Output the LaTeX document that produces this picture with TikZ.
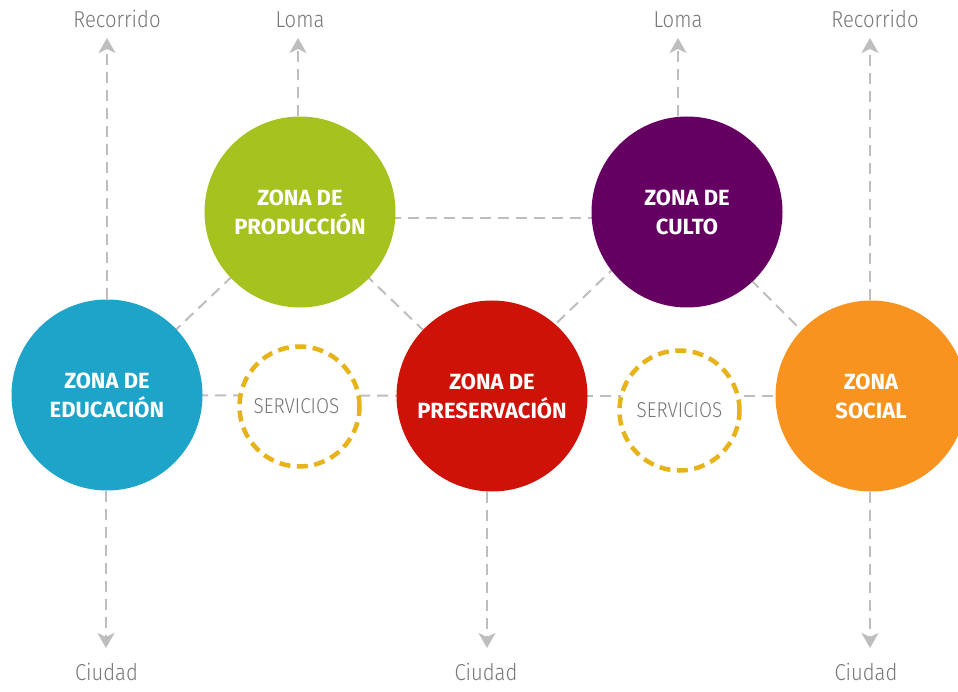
\documentclass[tikz,border=0pt]{standalone}
\usepackage{fontspec}
\setmainfont{Fira Sans}
\newfontfamily\zonefont{Fira Sans}
\newfontfamily\lightfont{Fira Sans Light}[FakeStretch=0.88]
\usetikzlibrary{arrows.meta}
\pgfdeclarelayer{bg}
\pgfsetlayers{bg,main}
\definecolor{educc}{HTML}{1EA3C9}
\definecolor{prodc}{HTML}{A5C21E}
\definecolor{presc}{HTML}{CE1207}
\definecolor{cultoc}{HTML}{650062}
\definecolor{socialc}{HTML}{F7931E}
\definecolor{servc}{HTML}{E6B41A}
\definecolor{linegray}{HTML}{BEBEBE}
\definecolor{txtgray}{HTML}{777777}
\begin{document}
\begin{tikzpicture}[x=1pt,y=-1pt,
  zone/.style={circle, minimum size=191pt, inner sep=0pt, text=white, align=center,
    font=\zonefont\bfseries\fontsize{22}{29}\selectfont},
  serv/.style={circle, minimum size=120pt, inner sep=0pt, fill=white, draw=servc,
    line width=4.5pt, dash pattern=on 11pt off 6.5pt, text=txtgray,
    font=\lightfont\fontsize{21.5}{25}\selectfont},
  link/.style={draw=linegray, line width=2pt, dash pattern=on 11pt off 7pt},
  arr/.style={link, -{Stealth[length=15pt,width=17pt,inset=4pt]}},
  lbl/.style={text=txtgray, inner sep=0pt, anchor=base,
    font=\lightfont\fontsize{23}{26}\selectfont}
]
\useasboundingbox (0,0) rectangle (958,692);

% zones
\node[zone, fill=educc]   (educ)   at (107,395) {ZONA DE\\EDUCACIÓN};
\node[zone, fill=prodc]   (prod)   at (300,212) {ZONA DE\\PRODUCCIÓN};
\node[zone, fill=presc]   (pres)   at (492,396) {ZONA DE\\PRESERVACIÓN};
\node[zone, fill=cultoc]  (culto)  at (687,212) {ZONA DE\\CULTO};
\node[zone, fill=socialc] (social) at (871,396) {ZONA\\SOCIAL};

% services
\node[serv] (serv1) at (299.5,406.5) {\hspace*{-6pt}SERVICIOS};
\node[serv] (serv2) at (679.5,410.5) {SERVICIOS};

% labels
\node[lbl] (rec1)  at (117,28)  {Recorrido};
\node[lbl] (loma1) at (300,28)  {Loma};
\node[lbl] (loma2) at (678,28)  {Loma};
\node[lbl] (rec2)  at (875,28)  {Recorrido};
\node[lbl] (ciu1)  at (106.5,680) {Ciudad};
\node[lbl] (ciu2)  at (486,680) {Ciudad};
\node[lbl] (ciu3)  at (866,680) {Ciudad};

% arrow end points
\coordinate (t1) at (107,38);
\coordinate (t2) at (298,38);
\coordinate (t3) at (678,38);
\coordinate (t4) at (870,38);
\coordinate (b1) at (106,648);
\coordinate (b2) at (487,648);
\coordinate (b3) at (870,648);

\begin{pgfonlayer}{bg}
  \fill[white] (0,0) rectangle (958,692);
  \draw[link] (educ.center) -- (pres.center);
  \draw[link] (pres.center) -- (social.center);
  \draw[link] ([yshift=-6pt]prod.center) -- ([yshift=-6pt]culto.center);
  \draw[link] (educ.center) -- (prod.center);
  \draw[link] (prod.center) -- (pres.center);
  \draw[link] ([yshift=11pt]pres.center) -- ([yshift=14pt]culto.center);
  \draw[link] ([yshift=-4pt]culto.center) -- ([yshift=-4pt]social.center);
  \draw[arr] (educ.north -| t1) -- (t1);
  \draw[arr] (prod.north -| t2) -- (t2);
  \draw[arr] (culto.north -| t3) -- (t3);
  \draw[arr] (social.north -| t4) -- (t4);
  \draw[arr] (educ.south -| b1) -- (b1);
  \draw[arr] (pres.south -| b2) -- (b2);
  \draw[arr] (social.south -| b3) -- (b3);
\end{pgfonlayer}
\end{tikzpicture}
\end{document}
